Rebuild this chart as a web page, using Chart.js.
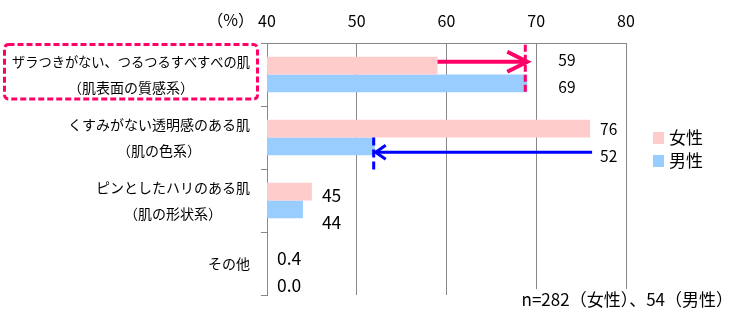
<!DOCTYPE html>
<html lang="ja">
<head>
<meta charset="utf-8">
<script src="https://cdn.jsdelivr.net/npm/chart.js@4/dist/chart.umd.min.js"></script>
<style>
  html, body { margin: 0; padding: 0; background: #fff; }
  #wrap { width: 735px; height: 314px; }
</style>
</head>
<body>
<div id="wrap"><canvas id="chart" width="735" height="314"></canvas></div>
<script>
// Categories (multi-line labels) and the two series, in percent
const categories = [
  ["ザラつきがない、つるつるすべすべの肌", "（肌表面の質感系）"],
  ["くすみがない透明感のある肌", "（肌の色系）"],
  ["ピンとしたハリのある肌", "（肌の形状系）"],
  ["その他"]
];
const femaleValues = [59, 76, 45, 0.4];
const maleValues = [69, 52, 44, 0.0];
const seriesNames = ["女性", "男性"];
const axisMin = 40;
const axisMax = 80;
const axisStep = 10;
const unitLabel = "（%）";
const sampleNote = "n=282（女性）、54（男性）";

const FONT = '"Noto Sans CJK JP", "Noto Sans", sans-serif';
const PINK = "#FFCCCC";
const BLUE = "#99CCFF";
const ACCENT_PINK = "#FF0066";
const ACCENT_BLUE = "#0000FF";
const GRID = "#878787";

function fmt(v) {
  return v < 10 ? v.toFixed(1) : String(v);
}

// Category labels: each block right-aligned to the axis, its lines centred within the block
const categoryLabels = {
  id: "categoryLabels",
  afterDraw(chart) {
    const { ctx } = chart;
    const y = chart.scales.y;
    const right = 250, lineH = 26, maxW = 238;
    ctx.save();
    ctx.font = "14px " + FONT;
    ctx.fillStyle = "#000";
    ctx.textAlign = "center";
    ctx.textBaseline = "middle";
    categories.forEach((lines, i) => {
      const cy = y.getPixelForValue(i);
      const w = Math.min(maxW, Math.max(...lines.map(l => ctx.measureText(l).width)));
      const cx = right - w / 2;
      lines.forEach((line, j) => {
        const ly = cy + (j - (lines.length - 1) / 2) * lineH + 0.5;
        ctx.fillText(line, cx, ly, maxW);
      });
    });
    ctx.restore();
  }
};

// Value labels beside each pair of bars
const valueLabels = {
  id: "valueLabels",
  afterDraw(chart, args, opts) {
    const { ctx } = chart;
    const x = chart.scales.x, y = chart.scales.y;
    ctx.save();
    ctx.fillStyle = "#000";
    ctx.textAlign = "left";
    ctx.textBaseline = "middle";
    categories.forEach((_, i) => {
      const top = Math.max(femaleValues[i], maleValues[i], axisMin);
      const lx = x.getPixelForValue(top) + opts.gap + opts.extraGap[i];
      const cy = y.getPixelForValue(i) + opts.pairShift[i];
      ctx.font = opts.sizes[i] + "px " + FONT;
      ctx.fillText(fmt(femaleValues[i]), lx, cy - opts.spacing / 2);
      ctx.fillText(fmt(maleValues[i]), lx, cy + opts.spacing / 2);
    });
    ctx.restore();
  }
};

function arrowHead(ctx, tipX, tipY, dir, len, half) {
  ctx.beginPath();
  ctx.moveTo(tipX - dir * len, tipY - half);
  ctx.lineTo(tipX, tipY);
  ctx.lineTo(tipX - dir * len, tipY + half);
  ctx.stroke();
}

// Highlight box, comparison arrows and dashed markers
const annotations = {
  id: "annotations",
  afterDatasetsDraw(chart) {
    const { ctx } = chart;
    const f = chart.getDatasetMeta(0).data;
    const m = chart.getDatasetMeta(1).data;
    ctx.save();
    ctx.lineCap = "butt";

    // first category: women -> men (pink)
    const f0 = f[0], m0 = m[0];
    const ay = f0.y - 4;
    ctx.strokeStyle = ACCENT_PINK;
    ctx.lineWidth = 4;
    ctx.beginPath();
    ctx.moveTo(f0.x, ay);
    ctx.lineTo(m0.x - 2, ay);
    ctx.stroke();
    ctx.lineJoin = "miter";
    arrowHead(ctx, m0.x, ay, 1, 20, 10);
    ctx.lineWidth = 3;
    ctx.setLineDash([7, 3]);
    ctx.beginPath();
    ctx.moveTo(m0.x - 2, f0.y - f0.height / 2 - 12);
    ctx.lineTo(m0.x - 2, m0.y + m0.height / 2);
    ctx.stroke();
    ctx.setLineDash([]);

    // second category: women -> men (blue)
    const f1 = f[1], m1 = m[1];
    const by = m1.y + 6;
    ctx.strokeStyle = ACCENT_BLUE;
    ctx.lineWidth = 3;
    ctx.beginPath();
    ctx.moveTo(f1.x + 2, by);
    ctx.lineTo(m1.x + 1, by);
    ctx.stroke();
    arrowHead(ctx, m1.x + 1, by, -1, 10, 7);
    ctx.setLineDash([8, 4]);
    ctx.beginPath();
    ctx.moveTo(m1.x - 1, m1.y - m1.height / 2);
    ctx.lineTo(m1.x - 1, m1.y + m1.height / 2 + 17);
    ctx.stroke();
    ctx.setLineDash([]);
    ctx.restore();
  },
  afterDraw(chart) {
    const { ctx } = chart;
    const y = chart.scales.y;
    // dashed frame around the first category label
    const top = y.top;
    const bottom = y.getPixelForValue(0) + 24.5;
    ctx.save();
    ctx.strokeStyle = ACCENT_PINK;
    ctx.lineWidth = 3;
    ctx.setLineDash([6, 3]);
    ctx.beginPath();
    ctx.roundRect(4.5, top + 1.5, 253, bottom - top - 1.5, 4);
    ctx.stroke();
    ctx.restore();
  }
};

// Unit label, legend and sample-size note
const extras = {
  id: "extras",
  afterDraw(chart) {
    const { ctx } = chart;
    const y = chart.scales.y;
    ctx.save();
    ctx.fillStyle = "#000";
    ctx.textBaseline = "middle";

    ctx.font = "16px " + FONT;
    ctx.textAlign = "right";
    ctx.fillText(unitLabel, 254, 20);

    // legend
    const colors = [PINK, BLUE];
    const ly = y.getPixelForValue(1) + 12;
    ctx.font = "17px " + FONT;
    ctx.textAlign = "left";
    seriesNames.forEach((name, i) => {
      const cy = ly + (i - 0.5) * 23;
      ctx.fillStyle = colors[i];
      ctx.fillRect(653, cy - 6, 11, 12);
      ctx.fillStyle = "#000";
      ctx.fillText(name, 669, cy);
    });

    // sample size note on a white ground
    ctx.font = "17px " + FONT;
    const w = ctx.measureText(sampleNote).width;
    const nx = 733 - w;
    ctx.fillStyle = "#fff";
    ctx.fillRect(nx - 4, 289, w + 6, 25);
    ctx.fillStyle = "#000";
    ctx.textAlign = "left";
    ctx.fillText(sampleNote, nx, 300);
    ctx.restore();
  }
};

new Chart(document.getElementById("chart"), {
  type: "bar",
  data: {
    labels: categories,
    datasets: [
      { label: seriesNames[0], data: femaleValues, backgroundColor: PINK, clip: 0 },
      { label: seriesNames[1], data: maleValues, backgroundColor: BLUE, clip: 0 }
    ]
  },
  options: {
    indexAxis: "y",
    responsive: false,
    animation: false,
    devicePixelRatio: 1,
    layout: { padding: { top: 0, left: 0, right: 109, bottom: 19 } },
    datasets: { bar: { categoryPercentage: 0.56, barPercentage: 1.0 } },
    scales: {
      x: {
        position: "top",
        min: axisMin,
        max: axisMax,
        ticks: {
          stepSize: axisStep,
          color: "#000",
          font: { family: FONT, size: 16 },
          padding: 12
        },
        grid: { color: GRID, lineWidth: 1, drawTicks: false },
        border: { display: true, color: GRID, width: 1 },
        afterFit(scale) { scale.height = 43; }
      },
      y: {
        ticks: { display: false },
        grid: {
          offset: true,
          drawOnChartArea: false,
          drawTicks: true,
          tickLength: 6,
          color: GRID,
          lineWidth: 1
        },
        border: { display: true, color: GRID, width: 1 },
        afterFit(scale) { scale.width = 267; }
      }
    },
    plugins: {
      legend: { display: false },
      tooltip: { enabled: false },
      valueLabels: {
        gap: 10,
        extraGap: [21, 0, 0, 0],
        pairShift: [-1, 5, 8, 8],
        spacing: 27,
        sizes: [15.5, 15.5, 17.5, 17.5]
      }
    }
  },
  plugins: [annotations, categoryLabels, valueLabels, extras]
});
</script>
</body>
</html>
